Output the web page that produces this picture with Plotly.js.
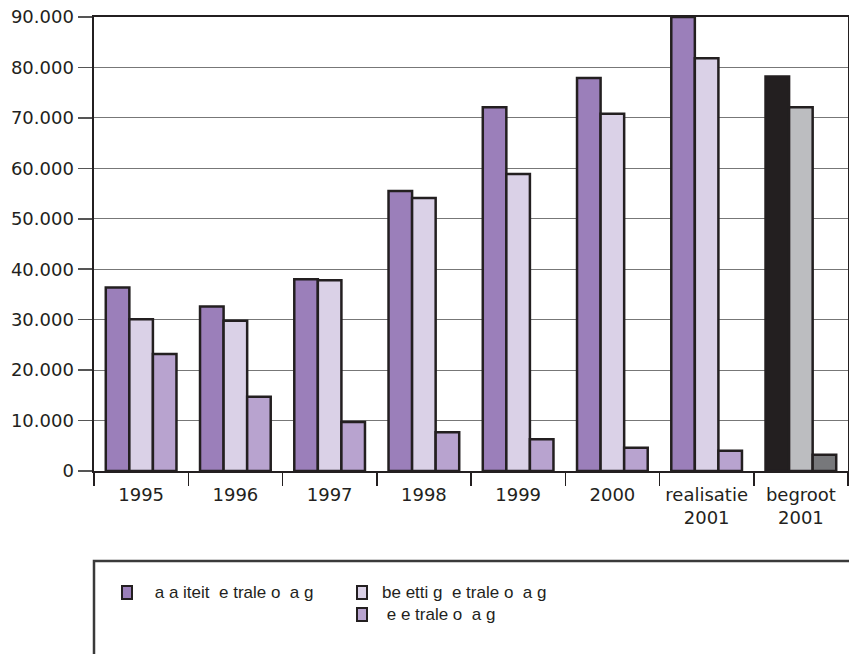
<!DOCTYPE html>
<html><head><meta charset="utf-8">
<script src="https://cdn.plot.ly/plotly-3.0.1.min.js"></script>
<style>html,body{margin:0;padding:0;background:#fff}</style>
</head><body>
<div id="chart" style="width:849px;height:654px"></div>
<script>
const categories = ['1995','1996','1997','1998','1999','2000','realisatie<br>2001','begroot<br>2001'];
const capaciteit = [36400, 32600, 38000, 55500, 72100, 77900, 90000, 78200];
const bezetting  = [30100, 29800, 37800, 54100, 58900, 70800, 81800, 72100];
const decentraal = [23200, 14700, 9700, 7700, 6300, 4600, 4000, 3200];
const seriesNames = ['\u00a0a\u00a0a\u00a0iteit\u00a0\u00a0e\u00a0trale\u00a0o\u00a0\u00a0a\u00a0g',
                     'be\u00a0etti\u00a0g\u00a0\u00a0e\u00a0trale\u00a0o\u00a0\u00a0a\u00a0g',
                     '\u00a0e\u00a0e\u00a0trale\u00a0o\u00a0\u00a0a\u00a0g'];
const yTicks = [0,10000,20000,30000,40000,50000,60000,70000,80000,90000];

const C1='#9b7fba', C2='#dad1e7', C3='#b8a3cf';
const B1='#231f20', B2='#bcbdc0', B3='#77787b';
const n = categories.length;
function cols(base, last){ return categories.map((c,i)=> i===n-1 ? last : base); }
const outline = {color:'#231f20', width:2.5};

const traces = [
  {type:'bar', x:categories, y:capaciteit, name:seriesNames[0], marker:{color:cols(C1,B1), line:outline}},
  {type:'bar', x:categories, y:bezetting, name:seriesNames[1], marker:{color:cols(C2,B2), line:outline}},
  {type:'bar', x:categories, y:decentraal, name:seriesNames[2], marker:{color:cols(C3,B3), line:outline}}
];

// pixel -> paper helpers (plot area: x 94..848, y 17..471)
const L=94, R=848, T=17, B=471;
const px = x => (x-L)/(R-L);
const py = y => (B-y)/(B-T);

const legFont = {family:'Liberation Sans, Arial, sans-serif', size:17, color:'#231f20'};
const legendItems = [
  {sx:122, sy:586, tx:148, col:C1, name:seriesNames[0]},
  {sx:357, sy:586, tx:380, col:C2, name:seriesNames[1]},
  {sx:357, sy:608, tx:380, col:C3, name:seriesNames[2]}
];
const shapes = [
  {type:'rect', xref:'paper', yref:'paper', x0:px(94), x1:px(860), y0:py(700), y1:py(561),
   line:{color:'#3a3a3a', width:2.5}, fillcolor:'rgba(0,0,0,0)'}
];
const annotations = [];
legendItems.forEach(it=>{
  shapes.push({type:'rect', xref:'paper', yref:'paper', x0:px(it.sx), x1:px(it.sx+10), y0:py(it.sy+13), y1:py(it.sy),
    line:{color:'#231f20', width:2}, fillcolor:it.col});
  annotations.push({xref:'paper', yref:'paper', x:px(it.tx), y:py(it.sy+6.5), xanchor:'left', yanchor:'middle',
    text:it.name, showarrow:false, font:legFont});
});

const tickFont = {family:'DejaVu Sans, sans-serif', size:18, color:'#231f20'};
const layout = {
  width:849, height:654,
  margin:{l:94, r:1, t:17, b:183, pad:0},
  paper_bgcolor:'#fff', plot_bgcolor:'#fff',
  separators:',.',
  showlegend:false,
  bargap:0.25, bargroupgap:0,
  xaxis:{type:'category', tickson:'boundaries', ticks:'outside', ticklen:13, tickwidth:1.5, tickcolor:'#231f20',
         showline:true, linecolor:'#231f20', linewidth:2, mirror:true, showgrid:false,
         tickfont:tickFont, ticklabelstandoff:6, automargin:false},
  yaxis:{range:[0,90000], tickvals:yTicks, tickformat:',d', ticks:'outside', ticklen:14, tickwidth:1.5,
         tickcolor:'#555', showline:true, linecolor:'#231f20', linewidth:2.5, mirror:true,
         showgrid:true, gridcolor:'#777', gridwidth:1, zeroline:false, tickfont:tickFont, automargin:false},
  shapes:shapes, annotations:annotations
};
Plotly.newPlot('chart', traces, layout, {displayModeBar:false, staticPlot:true});
</script>
</body></html>
